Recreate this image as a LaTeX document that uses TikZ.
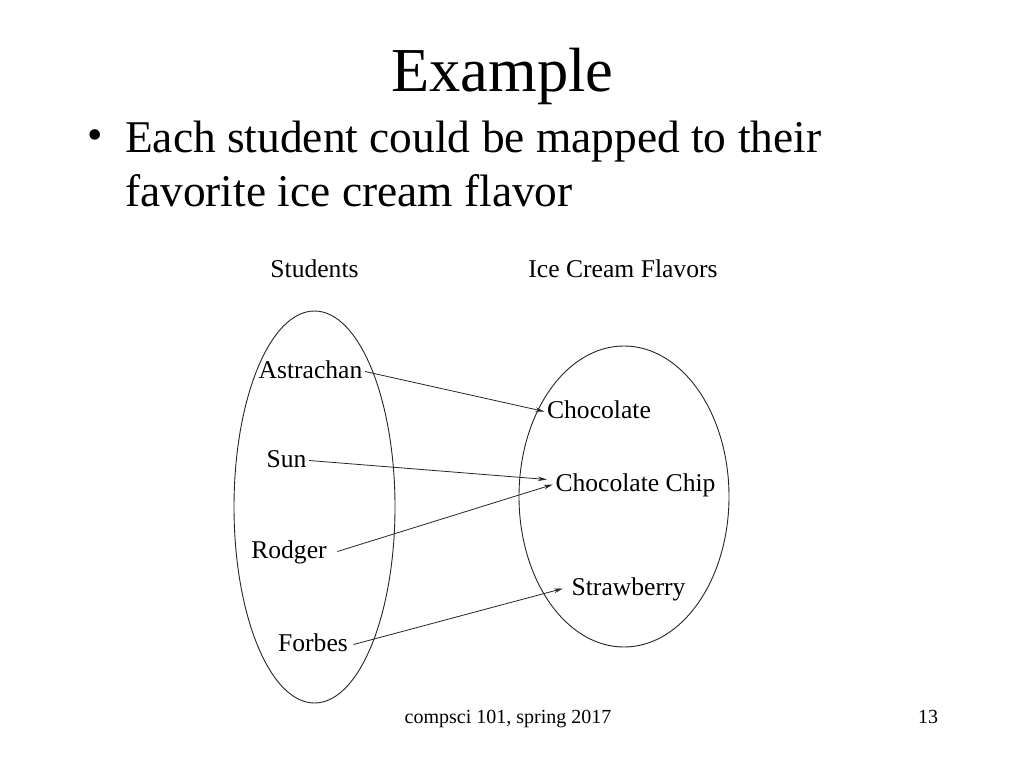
\documentclass[tikz,border=0pt]{standalone}
\usepackage{fontspec}
\setmainfont{Liberation Serif}
\usetikzlibrary{positioning,shapes.geometric,arrows.meta}

\begin{document}
\begin{tikzpicture}[
    x=1pt, y=-1pt,
    setbox/.style={draw=black!85, line width=0.9pt, ellipse, inner sep=0pt},
    item/.style={inner sep=2.5pt, anchor=base, font=\fontsize{25.6}{30}\selectfont, text height=18pt, text depth=5pt},
    head/.style={inner sep=0pt, anchor=base, font=\fontsize{25.6}{30}\selectfont},
    body/.style={inner sep=0pt, anchor=base west, font=\fontsize{45.4}{54}\selectfont},
    foot/.style={inner sep=0pt, anchor=base, font=\fontsize{20}{24}\selectfont},
    map/.style={-{Stealth[length=9pt,width=4.5pt]}, draw=black!85, line width=0.8pt}
]

\fill[white] (0,0) rectangle (1024,768);

% Slide title and bullet
\node[inner sep=0pt, anchor=base, font=\fontsize{62.5}{70}\selectfont] (title) at (502.5,91) {Example};
\node[inner sep=0pt, anchor=base, font=\fontsize{44}{48}\selectfont] (dot) at (95,149) {\textbullet};
\node[body] (line1) at (125,152) {Each student could be mapped to their};
\node[body] (line2) at ([yshift=-54pt]line1.base west) {favorite ice cream flavor};

% Left set: students
\node[setbox, minimum width=161pt, minimum height=392pt] (studs) at (314.5,507) {};
\node[head] (shead) at (314.5,277) {Students};
\node[item] (ast) at (310.5,378) {Astrachan};
\node[item] (sun) at (286.5,467) {Sun};
\node[item] (rod) at (289,558) {Rodger};
\node[item] (forb) at (313,651) {Forbes};

% Right set: flavors
\node[setbox, minimum width=210pt, minimum height=301pt] (flavs) at (624,496.5) {};
\node[head] (fhead) at (623,277) {Ice Cream Flavors};
\node[item] (choc) at (599,418) {Chocolate};
\node[item] (chip) at (635.5,491) {Chocolate Chip};
\node[item] (straw) at (628.5,595) {Strawberry};

% Mapping
\draw[map] (ast.east) -- (choc.west);
\draw[map] (sun.east) -- ([xshift=-6pt,yshift=5pt]chip.west);
\draw[map] ([xshift=8pt]rod.east) -- (chip.west);
\draw[map] ([xshift=3pt]forb.east) -- ([xshift=-6pt]straw.west);

% Footer
\node[foot] (course) at (508,723) {compsci 101, spring 2017};
\node[foot] (page) at (928,723) {13};

\end{tikzpicture}
\end{document}
